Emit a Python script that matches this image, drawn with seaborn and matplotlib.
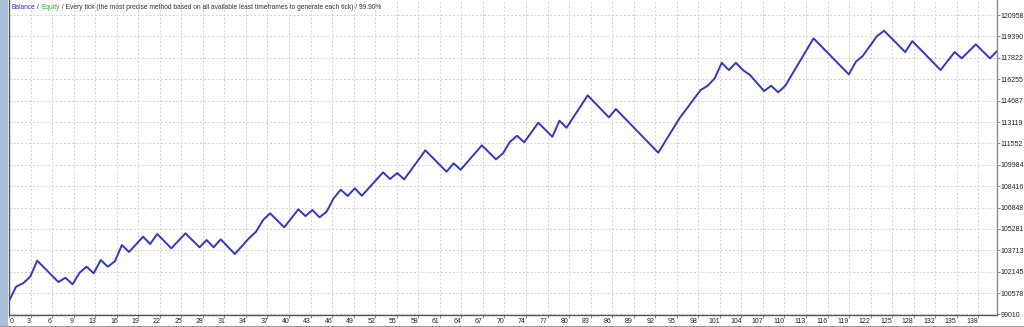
import numpy as np
import pandas as pd
import matplotlib
matplotlib.use("Agg")
import matplotlib.pyplot as plt
import seaborn as sns
from matplotlib.lines import Line2D
from matplotlib.patches import Rectangle

# ---- data ----
balance = [
    100000, 101047, 101297, 101780, 102953, 102433, 101913, 101392, 101707, 101223,
    102074, 102513, 102029, 103004, 102513, 102909, 104104, 103591, 104152, 104712,
    104177, 104910, 104386, 103862, 104412, 104961, 104448, 103935, 104470, 103935,
    104521, 103983, 103444, 104020, 104595, 105078, 105936, 106427, 105914, 105401,
    106061, 106720, 106229, 106669, 106134, 106544, 107526, 108160, 107705, 108259,
    107717, 108289, 108860, 109432, 108941, 109381, 108919, 109627, 110336, 111044,
    110521, 109999, 109476, 110092, 109622, 110218, 110815, 111411, 110898, 110385,
    110824, 111675, 112114, 111631, 112349, 113067, 112554, 112041, 113214, 112701,
    113492, 114284, 115075, 114538, 114000, 113463, 114071, 113537, 113003, 112469,
    111935, 111402, 110868, 111709, 112549, 113390, 114081, 114773, 115464, 115779,
    116321, 117465, 116930, 117465, 116930, 116563, 115977, 115390, 115779, 115295,
    115779, 116648, 117516, 118385, 119253, 118725, 118197, 117670, 117142, 116614,
    117538, 117978, 118700, 119422, 119810, 119290, 118770, 118249, 119055, 118524,
    117992, 117461, 116930, 117590, 118249, 117787, 118300, 118813, 118300, 117787,
    118322,
]
trades = list(range(len(balance)))

x_tick_labels = ["0", "3", "6", "9", "13", "16", "19", "22", "25", "28", "31", "34",
                 "37", "40", "43", "46", "49", "52", "55", "58", "61", "64", "67",
                 "70", "74", "77", "80", "83", "86", "89", "92", "95", "98", "101",
                 "104", "107", "110", "113", "116", "119", "122", "125", "128",
                 "132", "135", "138"]
y_tick_values = [99010, 100578, 102145, 103713, 105281, 106848, 108416, 109984,
                 111552, 113119, 114687, 116255, 117822, 119390, 120958]

title_parts = ["Balance", " / ", "Equity",
               " / Every tick (the most precise method based on all available least "
               "timeframes to generate each tick) / 99.90%"]
title_colors = ["#3030c8", "#333333", "#2eb82e", "#333333"]

# ---- figure ----
sns.set_theme(style="white")
plt.rcParams["font.family"] = ["Liberation Sans", "DejaVu Sans"]

W, H = 1024, 327
fig = plt.figure(figsize=(W / 100, H / 100), dpi=100)
fig.patch.set_facecolor("white")

ax_left, ax_right, ax_bottom, ax_top = 9, 997, 314.5, 0
ax_w, ax_h = ax_right - ax_left, ax_bottom - ax_top
ax = fig.add_axes([ax_left / W, (H - ax_bottom) / H, ax_w / W, ax_h / H])
ax.set_facecolor("white")

df = pd.DataFrame({"trade": trades, "balance": balance})
sns.lineplot(data=df, x="trade", y="balance", ax=ax, color="#3535c8",
             linewidth=1.4, legend=False)

px_per_trade = ax_w / (len(balance) - 1)
ax.set_xlim(0, len(balance) - 1)
px_per_unit = 21.39 / (y_tick_values[1] - y_tick_values[0])
ax.set_ylim(y_tick_values[0], y_tick_values[0] + ax_h / px_per_unit)

# x: labels (major) and grid (minor)
lab_px = [11.7] + [6.9 + 21.45 * k for k in range(1, len(x_tick_labels))]
ax.set_xticks([(p - ax_left) / px_per_trade for p in lab_px])
ax.set_xticklabels(x_tick_labels)
grid_px = [21.54 * k for k in range(0, len(x_tick_labels))]
ax.set_xticks([p / px_per_trade for p in grid_px], minor=True)
ax.tick_params(axis="x", which="major", length=0, pad=2.2, labelsize=5,
               labelcolor="#222222")
ax.tick_params(axis="x", which="minor", length=2, width=0.6, color="#777777",
               direction="out", bottom=True)

# y on the right
ax.yaxis.tick_right()
ax.set_yticks(y_tick_values)
ax.set_yticklabels([str(v) for v in y_tick_values])
ax.tick_params(axis="y", which="major", length=2.2, width=0.6, color="#777777",
               pad=0.6, labelsize=5, labelcolor="#222222", right=True, left=False)
ax.set_xlabel("")
ax.set_ylabel("")

# dotted grid
ax.grid(False)
ax.grid(which="major", axis="y", color="#d2d2d2", linestyle=(0, (2, 2)), linewidth=0.7)
ax.grid(which="minor", axis="x", color="#d2d2d2", linestyle=(0, (2, 2)), linewidth=0.7)
ax.set_axisbelow(True)

for side in ["left", "bottom"]:
    ax.spines[side].set_color("#555555")
    ax.spines[side].set_linewidth(1.0)
ax.spines["right"].set_color("#8a8a8a")
ax.spines["right"].set_linewidth(1.0)
ax.spines["top"].set_visible(False)

# header text in several colours
prev = ax.text((11.7 - ax_left) / ax_w, 1 - 7.5 / ax_h, title_parts[0],
               transform=ax.transAxes, fontsize=4.75, color=title_colors[0],
               ha="left", va="center")
for part, col in zip(title_parts[1:], title_colors[1:]):
    prev = ax.annotate(part, xy=(1, 0.5), xycoords=prev, fontsize=4.75, color=col,
                       ha="left", va="center")

# window decorations
fig.add_artist(Rectangle((0, 0), 7.5 / W, 1, transform=fig.transFigure,
                         facecolor="#a9c0dc", edgecolor="none", zorder=0))
fig.add_artist(Line2D([0, 1], [1 - 325.5 / H] * 2, transform=fig.transFigure,
                      color="#9a9a9a", linewidth=0.8))

fig.savefig("out.png", dpi=100, facecolor="white")
